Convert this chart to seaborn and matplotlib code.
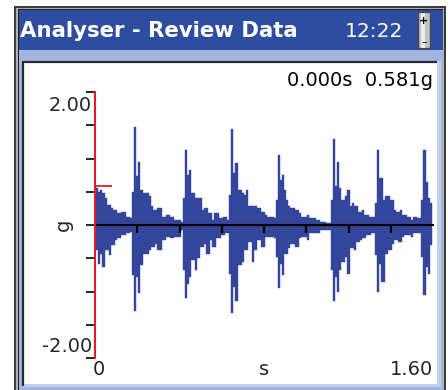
import numpy as np
import pandas as pd
import matplotlib
matplotlib.use("Agg")
import matplotlib.pyplot as plt
import seaborn as sns
from matplotlib.patches import Rectangle

# ---------------- data ----------------
title_text = "Analyser - Review Data"
clock_text = "12:22"
x_unit = "s"
y_unit = "g"
x_range = (0.0, 1.60)
y_range = (-2.00, 2.00)
y_tick_values = [-2.0, -1.5, -1.0, -0.5, 0.0, 0.5, 1.0, 1.5, 2.0]
x_tick_values = [0.2, 0.4, 0.6, 0.8, 1.0, 1.2, 1.4]
sample_interval_s = 0.01
cursor_time_s = 0.000
cursor_value_g = 0.581

upper_g = [
    0.58, 0.55, 0.50, 0.53, 0.48, 0.40, 0.30, 0.30, 0.25, 0.22,
    0.22, 0.18, 0.18, 0.20, 0.20, 0.12, 0.12, 0.10, 0.50, 1.48,
    0.73, 0.95, 0.53, 0.48, 0.48, 0.48, 0.43, 0.28, 0.22, 0.22,
    0.25, 0.25, 0.12, 0.12, 0.15, 0.15, 0.12, 0.12, 0.08, 0.08,
    0.08, 0.05, 0.40, 1.13, 0.75, 0.83, 0.48, 0.48, 0.40, 0.40,
    0.40, 0.22, 0.25, 0.25, 0.18, 0.18, 0.08, 0.18, 0.18, 0.10,
    0.10, 0.12, 0.12, 0.08, 0.45, 1.45, 0.78, 0.93, 0.53, 0.53,
    0.48, 0.45, 0.53, 0.28, 0.28, 0.28, 0.28, 0.25, 0.25, 0.20,
    0.20, 0.15, 0.12, 0.12, 0.12, 0.10, 0.38, 1.05, 0.68, 0.75,
    0.53, 0.38, 0.28, 0.25, 0.25, 0.22, 0.22, 0.18, 0.12, 0.12,
    0.12, 0.15, 0.10, 0.10, 0.10, 0.08, 0.08, 0.05, 0.05, 0.05,
    0.03, 0.03, 0.38, 1.30, 0.58, 0.95, 0.55, 0.38, 0.38, 0.43,
    0.53, 0.28, 0.33, 0.28, 0.28, 0.20, 0.20, 0.22, 0.15, 0.15,
    0.12, 0.12, 0.12, 0.33, 1.13, 0.70, 0.70, 0.38, 0.43, 0.43,
    0.38, 0.38, 0.22, 0.20, 0.20, 0.22, 0.15, 0.15, 0.12, 0.12,
    0.08, 0.12, 0.12, 0.10, 0.10, 0.38, 1.13, 0.65, 0.40, 0.33,
]
lower_g = [
    -0.33, -0.38, -0.58, -0.43, -0.63, -0.38, -0.38, -0.45, -0.30, -0.30,
    -0.23, -0.20, -0.20, -0.15, -0.15, -0.12, -0.12, -0.10, -0.75, -1.30,
    -0.78, -1.03, -0.60, -0.43, -0.43, -0.43, -0.38, -0.33, -0.33, -0.28,
    -0.38, -0.38, -0.23, -0.23, -0.18, -0.18, -0.20, -0.20, -0.18, -0.18,
    -0.18, -0.08, -0.68, -1.10, -0.88, -0.78, -0.53, -0.53, -0.68, -0.50,
    -0.33, -0.33, -0.28, -0.43, -0.43, -0.23, -0.33, -0.33, -0.20, -0.20,
    -0.15, -0.15, -0.12, -0.12, -0.73, -1.33, -0.93, -1.15, -0.60, -0.60,
    -0.55, -0.38, -0.38, -0.25, -0.25, -0.55, -0.38, -0.23, -0.23, -0.33,
    -0.33, -0.18, -0.18, -0.18, -0.18, -0.20, -0.48, -0.95, -0.58, -0.75,
    -0.43, -0.43, -0.35, -0.28, -0.28, -0.33, -0.33, -0.20, -0.18, -0.18,
    -0.18, -0.23, -0.12, -0.12, -0.12, -0.12, -0.12, -0.08, -0.08, -0.08,
    -0.08, -0.08, -0.68, -1.15, -0.78, -1.00, -0.68, -0.55, -0.55, -0.48,
    -0.73, -0.35, -0.35, -0.38, -0.25, -0.25, -0.23, -0.20, -0.20, -0.15,
    -0.15, -0.12, -0.12, -0.45, -1.00, -0.58, -0.85, -0.85, -0.43, -0.38,
    -0.38, -0.28, -0.23, -0.23, -0.25, -0.25, -0.18, -0.15, -0.15, -0.15,
    -0.18, -0.12, -0.12, -0.12, -0.12, -0.48, -1.05, -0.63, -0.73, -0.30,
]

# ---------------- style ----------------
wave_color = "#34469c"
title_blue = "#2d4ea0"
strip_blue = "#a3b6df"
cursor_red = "#e02020"
cursor_mark_len = 0.08
fs = 14

sns.set_style("white")
plt.rcParams["font.family"] = ["DejaVu Sans"]

W, H = 448, 390
fig = plt.figure(figsize=(W / 100, H / 100), dpi=100)

# window frame (pixel coordinates)
bg = fig.add_axes([0, 0, 1, 1], zorder=0)
bg.set_xlim(0, W)
bg.set_ylim(H, 0)
bg.axis("off")
bg.add_patch(Rectangle((14, 6), 432, 390, facecolor="#3c3c3c", edgecolor="none"))
bg.add_patch(Rectangle((16, 8), 428, 390, facecolor="#b0b0b0", edgecolor="none"))
bg.add_patch(Rectangle((18, 9), 425, 390, facecolor="#202020", edgecolor="none"))
bg.add_patch(Rectangle((19, 10), 424, 390, facecolor=strip_blue, edgecolor="none"))
bg.add_patch(Rectangle((19, 10), 424, 40, facecolor=title_blue, edgecolor="none"))
bg.add_patch(Rectangle((22, 61), 416, 326, facecolor="white", edgecolor="none"))
bg.plot([22.5, 22.5, 437], [386, 61.5, 61.5], color="#2a2a2a", linewidth=1.6, solid_capstyle="butt")
bg.add_patch(Rectangle((437, 61), 4, 326, facecolor="#c4cfe6", edgecolor="none"))
bg.add_patch(Rectangle((22, 384), 419, 3, facecolor="#c4cfe6", edgecolor="none"))
# battery icon
bg.add_patch(Rectangle((418, 12), 12, 36, facecolor="#bfc3c7", edgecolor="#4a4a4a", linewidth=1.0))
bg.add_patch(Rectangle((421, 12.5), 4, 35, facecolor="#eceef0", edgecolor="none"))
bg.text(424, 21, "+", color="black", fontsize=8, ha="center", va="center", fontweight="bold")
bg.text(424, 42, "\u2013", color="black", fontsize=8, ha="center", va="center")

fig.text(20 / W, 1 - 37 / H, title_text, color="white", fontsize=15.3, fontweight="bold",
         ha="left", va="baseline")
fig.text(403 / W, 1 - 37 / H, clock_text, color="white", fontsize=14.5,
         ha="right", va="baseline")
fig.text(433 / W, 1 - 80 / H, f"{cursor_time_s:.3f}s  {cursor_value_g:.3f}g",
         color="black", fontsize=fs, ha="right", va="center")

# ---------------- plot ----------------
ax = fig.add_axes([95 / W, 32 / H, 338 / W, 266 / H], zorder=2)
ax.patch.set_alpha(0)
ax.set_axisbelow(False)

t = np.round(np.arange(len(upper_g)) * sample_interval_s, 3)
df = pd.DataFrame({"t": t, "upper": upper_g, "lower": lower_g})
for col in ["upper", "lower"]:
    sns.barplot(data=df, x="t", y=col, native_scale=True, width=1.0, color=wave_color,
                saturation=1, edgecolor=wave_color, linewidth=0.3, errorbar=None, ax=ax)

ax.set_xlim(*x_range)
ax.set_ylim(*y_range)
ax.set_xlabel("")
ax.set_ylabel("")
ax.set_axisbelow(False)
for s in ["top", "right"]:
    ax.spines[s].set_visible(False)
ax.spines["left"].set_color(cursor_red)
ax.spines["left"].set_linewidth(1.5)
ax.spines["left"].set_zorder(5)
ax.spines["bottom"].set_position(("data", 0))
ax.spines["bottom"].set_color("black")
ax.spines["bottom"].set_linewidth(1.5)
ax.spines["bottom"].set_zorder(4)

ax.set_yticks(y_tick_values)
ax.tick_params(axis="y", left=True, direction="out", length=6.5, width=1.2, color="black", labelleft=False)
ax.set_xticks(x_tick_values)
ax.tick_params(axis="x", bottom=True, direction="out", length=5.5, width=1.6, color="black", labelbottom=False)
ax.xaxis.set_zorder(4)
ax.yaxis.set_zorder(4)

ax.hlines(cursor_value_g, cursor_time_s, cursor_time_s + cursor_mark_len,
          color=cursor_red, linewidth=1.3, zorder=6)

# axis texts
ax.text(-0.009, 0.951, f"{y_range[1]:.2f}", transform=ax.transAxes, ha="right", va="center", fontsize=fs)
ax.text(-0.009, 0.043, f"{y_range[0]:.2f}", transform=ax.transAxes, ha="right", va="center", fontsize=fs)
ax.text(-0.095, 0.5, y_unit, transform=ax.transAxes, ha="center", va="center", fontsize=fs, rotation=90)
ax.text(-0.006, -0.045, f"{x_range[0]:.0f}", transform=ax.transAxes, ha="left", va="center", fontsize=fs)
ax.text(0.5, -0.045, x_unit, transform=ax.transAxes, ha="center", va="center", fontsize=fs)
ax.text(1.0, -0.045, f"{x_range[1]:.2f}", transform=ax.transAxes, ha="right", va="center", fontsize=fs)

fig.savefig("out.png", dpi=100)
